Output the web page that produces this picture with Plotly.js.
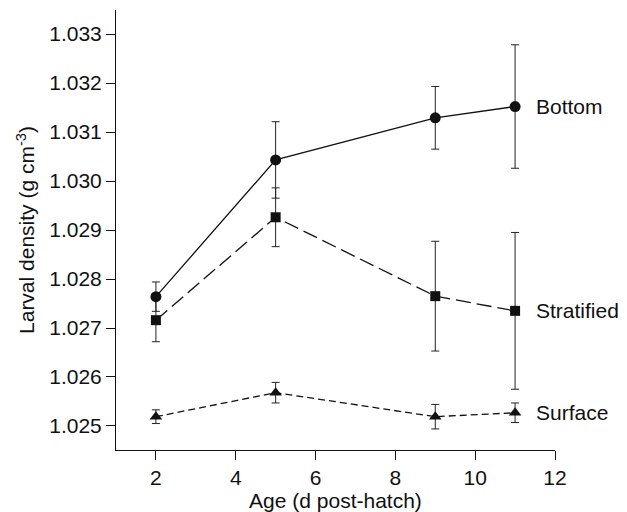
<!DOCTYPE html>
<html>
<head>
<meta charset="utf-8">
<script src="https://cdn.plot.ly/plotly-3.0.1.min.js"></script>
<style>html,body{margin:0;padding:0;background:#fff;}#chart{width:627px;height:512px;}</style>
</head>
<body>
<div id="chart"></div>
<script>
const age = [2, 5, 9, 11];
const bottom = [1.02764, 1.03043, 1.03129, 1.03152];
const bottomErr = [0.00030, 0.00078, 0.00064, 0.00126];
const stratified = [1.02716, 1.02926, 1.02765, 1.02735];
const stratifiedErr = [0.00044, 0.00060, 0.00112, 0.00160];
const surface = [1.02519, 1.02568, 1.02519, 1.02527];
const surfaceErr = [0.00014, 0.00021, 0.00025, 0.00020];
const seriesNames = ["Bottom", "Stratified", "Surface"];
const xTicks = [2, 4, 6, 8, 10, 12];
const yTicks = [1.025, 1.026, 1.027, 1.028, 1.029, 1.030, 1.031, 1.032, 1.033];

const ink = '#111';
const font = {family: 'Liberation Sans, Arial, Helvetica, sans-serif', size: 21, color: ink};

function series(y, err, symbol, size, dash) {
  return {
    x: age, y: y, type: 'scatter', mode: 'lines+markers',
    line: {color: ink, width: 1.3, dash: dash},
    marker: {symbol: symbol, size: size, color: ink},
    error_y: {type: 'data', array: err, visible: true, color: '#222', thickness: 1, width: 4},
    showlegend: false, cliponaxis: false
  };
}

const data = [
  series(stratified, stratifiedErr, 'square', 10, '15px,6px'),
  series(surface, surfaceErr, 'triangle-up', 11, '7px,4px'),
  series(bottom, bottomErr, 'circle', 11, 'solid')
];

const lastIdx = age.length - 1;
const labelVals = [bottom[lastIdx], stratified[lastIdx], surface[lastIdx]];
const annotations = seriesNames.map((n, i) => ({
  x: age[lastIdx], y: labelVals[i], xref: 'x', yref: 'y',
  text: n, showarrow: false, xanchor: 'left', yanchor: 'middle',
  xshift: 19, font: font
}));

const layout = {
  width: 627, height: 512,
  margin: {l: 116, r: 72, t: 10, b: 62},
  paper_bgcolor: '#fff', plot_bgcolor: '#fff',
  font: font,
  xaxis: {
    range: [1, 12], tickvals: xTicks, ticktext: xTicks.map(String),
    showgrid: false, zeroline: false, showline: true, linecolor: ink, linewidth: 1,
    ticks: 'outside', ticklen: 9, tickwidth: 1, tickcolor: ink,
    tickfont: font,
    title: {text: 'Age (d post-hatch)', font: font, standoff: 2}
  },
  yaxis: {
    range: [1.02451, 1.03349], tickvals: yTicks, ticktext: yTicks.map(v => v.toFixed(3)),
    showgrid: false, zeroline: false, showline: true, linecolor: ink, linewidth: 1,
    ticks: 'outside', ticklen: 9, tickwidth: 1, tickcolor: ink,
    tickfont: font,
    title: {text: 'Larval density (g cm<sup>-3</sup>)', font: font, standoff: 8}
  },
  annotations: annotations
};

Plotly.newPlot('chart', data, layout, {displayModeBar: false, staticPlot: true});
</script>
</body>
</html>
